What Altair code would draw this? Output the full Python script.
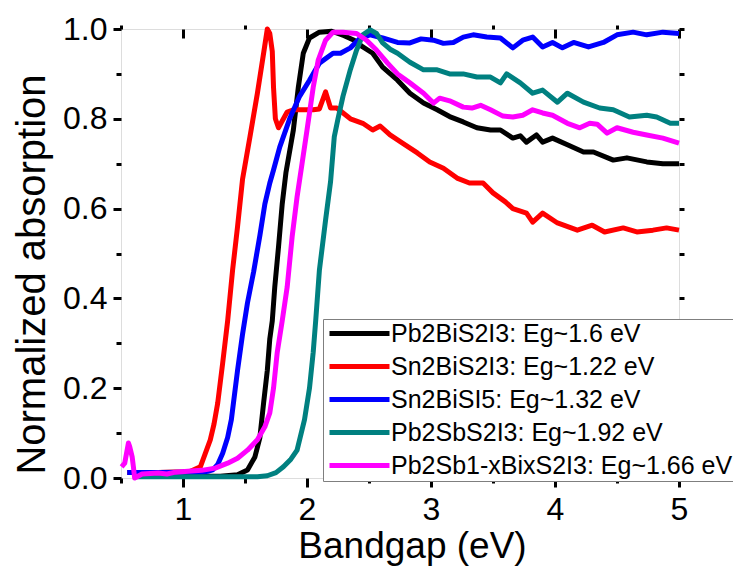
import altair as alt
import pandas as pd

series_names = [
    "Pb2BiS2I3: Eg~1.6 eV",
    "Sn2BiS2I3: Eg~1.22 eV",
    "Sn2BiSI5: Eg~1.32 eV",
    "Pb2SbS2I3: Eg~1.92 eV",
    "Pb2Sb1-xBixS2I3: Eg~1.66 eV",
]
series_colors = ["#000000", "#ff0000", "#0000ff", "#008080", "#ff00ff"]

black_x = [0.62, 0.9, 1.1, 1.3, 1.44, 1.52, 1.58, 1.62, 1.65, 1.68, 1.70, 1.72, 1.74, 1.77, 1.80, 1.83,
           1.89, 1.93, 1.97, 2.02, 2.10, 2.20, 2.30, 2.38, 2.45, 2.53, 2.61, 2.73, 2.83, 2.94, 3.05, 3.15,
           3.26, 3.37, 3.48, 3.56, 3.66, 3.72, 3.77, 3.85, 3.90, 3.98, 4.10, 4.23, 4.31, 4.47, 4.58, 4.74,
           4.87, 5.0]
black_y = [0.004, 0.004, 0.004, 0.004, 0.007, 0.018, 0.047, 0.09, 0.167, 0.24, 0.31, 0.35, 0.425, 0.514,
           0.61, 0.68, 0.775, 0.87, 0.946, 0.98, 0.993, 0.995, 0.985, 0.975, 0.96, 0.946, 0.915, 0.886,
           0.857, 0.835, 0.82, 0.805, 0.793, 0.78, 0.775, 0.775, 0.757, 0.762, 0.748, 0.764, 0.748, 0.757,
           0.742, 0.726, 0.726, 0.708, 0.713, 0.704, 0.70, 0.70]

red_x = [0.55, 0.8, 1.0, 1.06, 1.10, 1.14, 1.18, 1.22, 1.25, 1.28, 1.32, 1.36, 1.40, 1.44, 1.48, 1.54,
         1.60, 1.65, 1.68, 1.70, 1.72, 1.73, 1.745, 1.77, 1.81, 1.84, 1.89, 1.96, 2.05, 2.10, 2.15, 2.19,
         2.24, 2.35, 2.45, 2.53, 2.59, 2.67, 2.77, 2.89, 2.99, 3.10, 3.21, 3.31, 3.42, 3.50, 3.60, 3.66,
         3.77, 3.82, 3.90, 4.02, 4.18, 4.30, 4.40, 4.55, 4.66, 4.79, 4.90, 5.0]
red_y = [0.012, 0.012, 0.014, 0.015, 0.02, 0.025, 0.055, 0.085, 0.12, 0.167, 0.256, 0.35, 0.463, 0.56,
         0.665, 0.76, 0.857, 0.946, 1.0, 0.99, 0.95, 0.87, 0.80, 0.78, 0.80, 0.815, 0.82, 0.82, 0.82,
         0.822, 0.86, 0.824, 0.824, 0.80, 0.79, 0.775, 0.784, 0.764, 0.746, 0.724, 0.704, 0.69, 0.668,
         0.657, 0.657, 0.635, 0.615, 0.60, 0.59, 0.57, 0.59, 0.568, 0.552, 0.563, 0.548, 0.557, 0.548,
         0.552, 0.557, 0.552]

blue_x = [0.55, 0.8, 1.0, 1.15, 1.20, 1.24, 1.28, 1.32, 1.36, 1.39, 1.44, 1.48, 1.52, 1.57, 1.62, 1.66,
          1.70, 1.73, 1.78, 1.86, 1.94, 2.02, 2.10, 2.21, 2.27, 2.35, 2.43, 2.51, 2.61, 2.73, 2.83, 2.92,
          3.02, 3.10, 3.18, 3.26, 3.34, 3.45, 3.56, 3.66, 3.74, 3.82, 3.90, 3.98, 4.06, 4.15, 4.27, 4.39,
          4.50, 4.63, 4.74, 4.87, 5.0]
blue_y = [0.012, 0.012, 0.013, 0.013, 0.015, 0.018, 0.03, 0.055, 0.09, 0.13, 0.24, 0.32, 0.39, 0.46,
          0.54, 0.61, 0.657, 0.686, 0.737, 0.80, 0.85, 0.886, 0.924, 0.946, 0.946, 0.958, 0.98, 0.987,
          0.98, 0.97, 0.969, 0.978, 0.975, 0.968, 0.97, 0.982, 0.987, 0.982, 0.98, 0.958, 0.975, 0.982,
          0.96, 0.97, 0.958, 0.97, 0.96, 0.97, 0.987, 0.993, 0.987, 0.993, 0.99]

teal_x = [0.62, 1.0, 1.4, 1.6, 1.68, 1.75, 1.81, 1.87, 1.92, 1.98, 2.02, 2.05, 2.07, 2.10, 2.15, 2.19,
          2.22, 2.25, 2.29, 2.35, 2.40, 2.45, 2.51, 2.56, 2.61, 2.67, 2.73, 2.83, 2.94, 3.05, 3.15, 3.26,
          3.37, 3.48, 3.56, 3.61, 3.72, 3.82, 3.90, 4.02, 4.10, 4.23, 4.36, 4.47, 4.60, 4.74, 4.82, 4.93,
          5.0]
teal_y = [0.003, 0.003, 0.003, 0.003, 0.005, 0.012, 0.025, 0.042, 0.062, 0.13, 0.20, 0.28, 0.35, 0.463,
          0.575, 0.66, 0.76, 0.80, 0.85, 0.91, 0.953, 0.987, 0.998, 0.99, 0.969, 0.955, 0.946, 0.926,
          0.909, 0.909, 0.90, 0.90, 0.893, 0.893, 0.88, 0.90, 0.88, 0.857, 0.864, 0.837, 0.857, 0.837,
          0.824, 0.82, 0.804, 0.808, 0.804, 0.79, 0.79]

magenta_x = [0.505, 0.53, 0.56, 0.57, 0.59, 0.60, 0.61, 0.67, 0.80, 0.87, 0.94, 1.04, 1.15, 1.26, 1.36,
             1.44, 1.52, 1.60, 1.66, 1.70, 1.73, 1.76, 1.80, 1.84, 1.88, 1.92, 1.96, 2.00, 2.05, 2.09,
             2.15, 2.21, 2.29, 2.40, 2.48, 2.56, 2.65, 2.73, 2.83, 2.94, 3.02, 3.07, 3.15, 3.26, 3.33,
             3.40, 3.48, 3.58, 3.66, 3.74, 3.82, 3.90, 3.98, 4.10, 4.20, 4.28, 4.34, 4.42, 4.50, 4.63,
             4.74, 4.87, 5.0]
magenta_y = [0.025, 0.033, 0.078, 0.07, 0.047, 0.025, 0.0, 0.009, 0.011, 0.009, 0.013, 0.015, 0.017,
             0.022, 0.033, 0.044, 0.062, 0.085, 0.114, 0.145, 0.20, 0.28, 0.35, 0.425, 0.537, 0.626,
             0.70, 0.775, 0.87, 0.93, 0.975, 0.993, 0.993, 0.99, 0.975, 0.953, 0.924, 0.90, 0.88, 0.857,
             0.835, 0.846, 0.84, 0.826, 0.824, 0.83, 0.82, 0.806, 0.804, 0.808, 0.82, 0.813, 0.808, 0.79,
             0.78, 0.79, 0.788, 0.768, 0.78, 0.77, 0.764, 0.757, 0.746]

x_ticks = [0.5, 1, 1.5, 2, 2.5, 3, 3.5, 4, 4.5, 5]
y_ticks = [0.0, 0.1, 0.2, 0.3, 0.4, 0.5, 0.6, 0.7, 0.8, 0.9, 1.0]

all_x = [black_x, red_x, blue_x, teal_x, magenta_x]
all_y = [black_y, red_y, blue_y, teal_y, magenta_y]
rows = []
for k, (name, xs, ys) in enumerate(zip(series_names, all_x, all_y)):
    for i, (xv, yv) in enumerate(zip(xs, ys)):
        rows.append({"series": name, "order": k, "i": i, "x": xv, "y": yv})
df = pd.DataFrame(rows)

FONT = "Liberation Sans"

xscale = alt.Scale(domain=[0.5, 5], nice=False, zero=False)
yscale = alt.Scale(domain=[0, 1], nice=False)
color = alt.Color(
    "series:N",
    scale=alt.Scale(domain=series_names, range=series_colors),
    title=None,
    legend=alt.Legend(
        orient="none", legendX=202, legendY=290,
        symbolType="M-3,0H3", symbolStrokeWidth=5, symbolSize=400, symbolOffset=22,
        labelFontSize=25, labelFont=FONT, labelLimit=600, labelOffset=19,
        strokeColor="#7f7f7f", fillColor="white", padding=2, rowPadding=7,
    ),
)

x_bottom = alt.Axis(
    values=x_ticks, labelExpr="datum.value % 1 == 0 ? format(datum.value, 'd') : ''",
    tickSize={"condition": {"test": "datum.value % 1 != 0", "value": 5}, "value": 9},
    tickWidth=3, tickColor="black", domain=False, grid=False,
    labelFontSize=32, labelFont=FONT, labelColor="black", labelPadding=7, labelFlush=False,
    title="Bandgap (eV)", titleFontSize=37, titleFont=FONT, titleFontWeight="normal",
    titleColor="black", titleX=291, titleY=79, titleBaseline="alphabetic",
)
y_left = alt.Axis(
    values=y_ticks, labelExpr="round(datum.value*10) % 2 == 0 ? format(datum.value, '.1f') : ''",
    tickSize={"condition": {"test": "round(datum.value*10) % 2 != 0", "value": 5}, "value": 8},
    tickWidth=3, tickColor="black", domain=False, grid=False,
    labelFontSize=32, labelFont=FONT, labelColor="black", labelPadding=6, labelFlush=False,
    title="Normalized absorption", titleFontSize=40, titleFont=FONT, titleFontWeight="normal",
    titleColor="black", titleX=-77, titleY=245, titleBaseline="alphabetic",
)
x_top = alt.Axis(
    orient="top", values=x_ticks, labels=False, title="",
    tickSize={"condition": {"test": "datum.value % 1 != 0", "value": 4}, "value": -9},
    tickWidth=3, tickColor="black", domain=False, grid=False,
)
y_right = alt.Axis(
    orient="right", values=y_ticks, labels=False, title="",
    tickSize=5, tickWidth=3, tickColor="black", domain=False, grid=False,
)

base = alt.Chart(df)
lines = base.mark_line(strokeWidth=5, strokeJoin="round").encode(
    x=alt.X("x:Q", scale=xscale, axis=x_bottom),
    y=alt.Y("y:Q", scale=yscale, axis=y_left),
    color=color,
    detail="series:N",
    order="i:Q",
)
ghost = base.mark_line(strokeOpacity=0).encode(
    x=alt.X("x:Q", scale=xscale, axis=x_top),
    y=alt.Y("y:Q", scale=yscale, axis=y_right),
    color=color,
    detail="series:N",
    order="i:Q",
)

chart = (
    alt.layer(lines, ghost)
    .resolve_axis(x="independent", y="independent")
    .properties(
        width=558, height=449,
        autosize=alt.AutoSizeParams(type="none"),
        padding={"left": 113, "top": 21, "right": 54, "bottom": 88},
    )
    .configure_view(stroke="black", strokeWidth=4.5)
    .configure(background="white")
)

chart.save("out.html", embed_options={"renderer": "svg", "actions": False})
